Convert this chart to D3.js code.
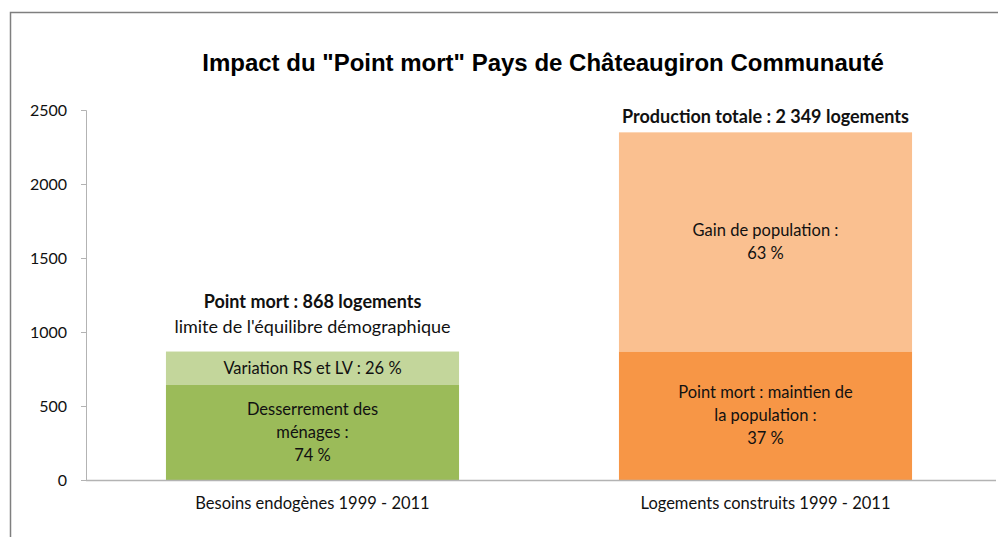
<!DOCTYPE html>
<html>
<head>
<meta charset="utf-8">
<script src="https://cdn.jsdelivr.net/npm/d3@7"></script>
<style>
  body { margin: 0; background: #fff; }
  svg text { font-family: Lato, "Open Sans", sans-serif; fill: #111; }
</style>
</head>
<body>
<div id="chart"></div>
<script>
// chart data
var categories = ["Besoins endogènes 1999 - 2011", "Logements construits 1999 - 2011"];
var lowerValues = [642, 869];
var upperValues = [226, 1480];
var lowerLabels = [["Desserrement des", "ménages :", "74 %"], ["Point mort : maintien de", "la population :", "37 %"]];
var upperLabels = [["Variation RS et LV : 26 %"], ["Gain de population :", "63 %"]];
var topNotes = [[["Point mort : 868 logements", true], ["limite de l'équilibre démographique", false]],
                [["Production totale : 2 349 logements", true]]];
var yTicks = [0, 500, 1000, 1500, 2000, 2500];
var title = "Impact du \"Point mort\" Pays de Châteaugiron Communauté";

var svgWidth = 998, svgHeight = 537;
var margin = { top: 110, right: 6, bottom: 57, left: 86 };
var width = svgWidth - margin.left - margin.right;
var height = svgHeight - margin.top - margin.bottom;

// gap between bar top and centre of the last note line
var noteGap = [25, 16];

var svg = d3.select("#chart").append("svg")
  .attr("width", svgWidth)
  .attr("height", svgHeight);

// outer frame (only left and top visible)
svg.append("path")
  .attr("d", "M10.5,537 L10.5,12.5 L998,12.5")
  .attr("fill", "none")
  .attr("stroke", "#7f7f7f")
  .attr("stroke-width", 1.5);

svg.append("text")
  .attr("x", 543)
  .attr("y", 71)
  .attr("text-anchor", "middle")
  .style("font-family", "'Liberation Sans', Arial, sans-serif")
  .style("font-weight", "bold")
  .style("font-size", "24px")
  .style("fill", "#000")
  .text(title);

var chartGroup = svg.append("g")
  .attr("transform", `translate(${margin.left}, ${margin.top})`);

var x = d3.scaleBand()
  .domain(categories)
  .range([0, width])
  .paddingInner(0.353)
  .paddingOuter(0.1765);

var y = d3.scaleLinear()
  .domain([0, 2500])
  .range([height, 0]);

// y axis
var leftAxis = d3.axisLeft(y).tickValues(yTicks).tickFormat(d3.format("d")).tickSize(5).tickPadding(14);
var yAxis = chartGroup.append("g").call(leftAxis);
yAxis.selectAll("path, line").attr("stroke", "#b3b3b3");
yAxis.selectAll("text").style("font-size", "16px").attr("fill", "#111");

var rows = categories.map(function(c, i) {
  return { cat: c, lo: lowerValues[i], up: upperValues[i], i: i };
});

var lowColors = ["#9bbb59", "#f79646"];
var upColors = ["#c3d69b", "#fac090"];

// stacked bars
chartGroup.selectAll(".lower")
  .data(rows)
  .enter()
  .append("rect")
  .attr("x", d => x(d.cat))
  .attr("width", x.bandwidth())
  .attr("y", d => y(d.lo))
  .attr("height", d => y(0) - y(d.lo))
  .attr("fill", d => lowColors[d.i]);

chartGroup.selectAll(".upper")
  .data(rows)
  .enter()
  .append("rect")
  .attr("x", d => x(d.cat))
  .attr("width", x.bandwidth())
  .attr("y", d => y(d.lo + d.up))
  .attr("height", d => y(d.lo) - y(d.lo + d.up))
  .attr("fill", d => upColors[d.i]);

// x axis line
chartGroup.append("line")
  .attr("x1", 0).attr("x2", width + 4)
  .attr("y1", height + 0.5).attr("y2", height + 0.5)
  .attr("stroke", "#b3b3b3")
  .attr("stroke-width", 1.5);

// category labels
chartGroup.selectAll(".cat")
  .data(rows)
  .enter()
  .append("text")
  .attr("x", d => x(d.cat) + x.bandwidth() / 2)
  .attr("y", height + 23)
  .attr("dy", "0.35em")
  .attr("text-anchor", "middle")
  .style("font-size", "16.5px")
  .text(d => d.cat);

var lineH = 23;
function multiLine(lines, cx, cy, size) {
  lines.forEach(function(t, k) {
    chartGroup.append("text")
      .attr("x", cx)
      .attr("y", cy + (k - (lines.length - 1) / 2) * lineH)
      .attr("dy", "0.35em")
      .attr("text-anchor", "middle")
      .style("font-size", size)
      .text(t);
  });
}

rows.forEach(function(d) {
  var cx = x(d.cat) + x.bandwidth() / 2;
  multiLine(lowerLabels[d.i], cx, (y(0) + y(d.lo)) / 2, "16.5px");
  multiLine(upperLabels[d.i], cx, (y(d.lo) + y(d.lo + d.up)) / 2, "16.5px");

  // notes above the bar
  var notes = topNotes[d.i];
  var top = y(d.lo + d.up);
  notes.forEach(function(n, k) {
    chartGroup.append("text")
      .attr("x", cx)
      .attr("y", top - noteGap[d.i] - (notes.length - 1 - k) * 25)
      .attr("dy", "0.35em")
      .attr("text-anchor", "middle")
      .style("font-size", "18px")
      .style("font-weight", n[1] ? "bold" : "normal")
      .text(n[0]);
  });
});
</script>
</body>
</html>
